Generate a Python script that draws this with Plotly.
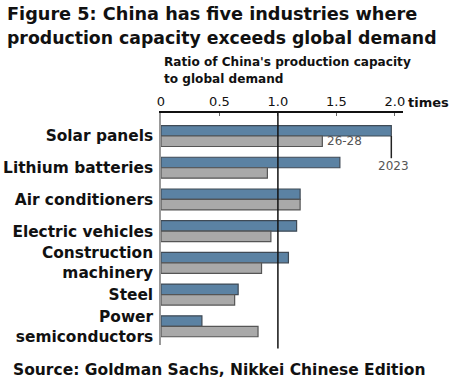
import plotly.graph_objects as go

categories = ["Solar panels", "Lithium batteries", "Air conditioners", "Electric vehicles",
              "Construction<br>machinery", "Steel", "Power<br>semiconductors"]
ratio_2023 = [1.97, 1.53, 1.19, 1.16, 1.09, 0.66, 0.35]
ratio_2628 = [1.38, 0.91, 1.19, 0.94, 0.86, 0.63, 0.83]
tick_vals = [0, 0.5, 1.0, 1.5, 2.0]
tick_text = ["0", "0.5", "1.0", "1.5", "2.0"]

FONT = "DejaVu Sans"
BLUE = "#5b82a3"
GRAY = "#a9a9a9"
W, H = 455, 386
ML, MR, MT, MB = 161, 52, 113, 41

fig = go.Figure()
fig.add_trace(go.Bar(y=categories, x=ratio_2023, orientation="h", name="2023",
                     marker=dict(color=BLUE, line=dict(color="#3f4a55", width=1.2))))
fig.add_trace(go.Bar(y=categories, x=ratio_2628, orientation="h", name="26-28",
                     marker=dict(color=GRAY, line=dict(color="#555555", width=1.2))))

fig.update_layout(
    width=W, height=H,
    margin=dict(l=ML, r=MR, t=MT, b=MB, autoexpand=False),
    paper_bgcolor="white", plot_bgcolor="white",
    barmode="group", bargap=0.34, bargroupgap=0,
    showlegend=False,
    font=dict(family=FONT, color="#111111"),
)
fig.update_xaxes(side="top", range=[0, 2.07], tickvals=tick_vals, ticktext=tick_text,
                 showgrid=False, zeroline=False, showline=True, linecolor="#111111", linewidth=1.5,
                 ticks="inside", ticklen=3, tickcolor="#666666", automargin=False,
                 tickfont=dict(family=FONT, size=13, color="#111111"))
fig.update_yaxes(range=[6.59, -0.726], showgrid=False, zeroline=False,
                 showline=True, linecolor="#999999", linewidth=1.5,
                 ticks="", ticklabelstandoff=3, automargin=False,
                 tickfont=dict(family=FONT, size=15.4, color="#111111", weight="bold"))

# reference line at 1.0
fig.add_shape(type="line", xref="x", yref="paper", x0=1.0, x1=1.0, y0=-0.015, y1=1.0,
              line=dict(color="#111111", width=1.5))

# leader line for 2023 label
fig.add_shape(type="line", xref="x", yref="y", x0=ratio_2023[0], x1=ratio_2023[0],
              y0=0, y1=0.7, line=dict(color="#222222", width=1.5))

fig.add_annotation(x=ratio_2628[0], y=0.17, xref="x", yref="y", text="26-28", showarrow=False,
                   xanchor="left", xshift=3, font=dict(family=FONT, size=12, color="#555555"))
fig.add_annotation(x=ratio_2023[0], y=0.95, xref="x", yref="y", text="2023", showarrow=False,
                   xanchor="center", xshift=2, font=dict(family=FONT, size=12, color="#555555"))

PW = W - ML - MR
PH = H - MT - MB
def px(x):
    return (x - ML) / PW
def py(y):
    return (H - MB - y) / PH

ann = [
    dict(text="<b>Figure 5: China has five industries where</b>", x=5, y=14, size=17.7),
    dict(text="<b>production capacity exceeds global demand</b>", x=5, y=38, size=17.3),
    dict(text="<b>Ratio of China's production capacity</b>", x=162, y=62, size=12.1),
    dict(text="<b>to global demand</b>", x=162, y=79, size=12.1),
    dict(text="<b>Source: Goldman Sachs, Nikkei Chinese Edition</b>", x=11, y=370, size=15.5),
    dict(text="<b>times</b>", x=406, y=102, size=13),
]
for a in ann:
    fig.add_annotation(text=a["text"], x=px(a["x"]), y=py(a["y"]), xref="paper", yref="paper",
                       xanchor="left", yanchor="middle", showarrow=False,
                       font=dict(family=FONT, size=a["size"], color="#111111"))

fig.write_html("out.html", config={"displayModeBar": False},
               post_script="document.body.style.margin='0';document.body.style.padding='0';")
